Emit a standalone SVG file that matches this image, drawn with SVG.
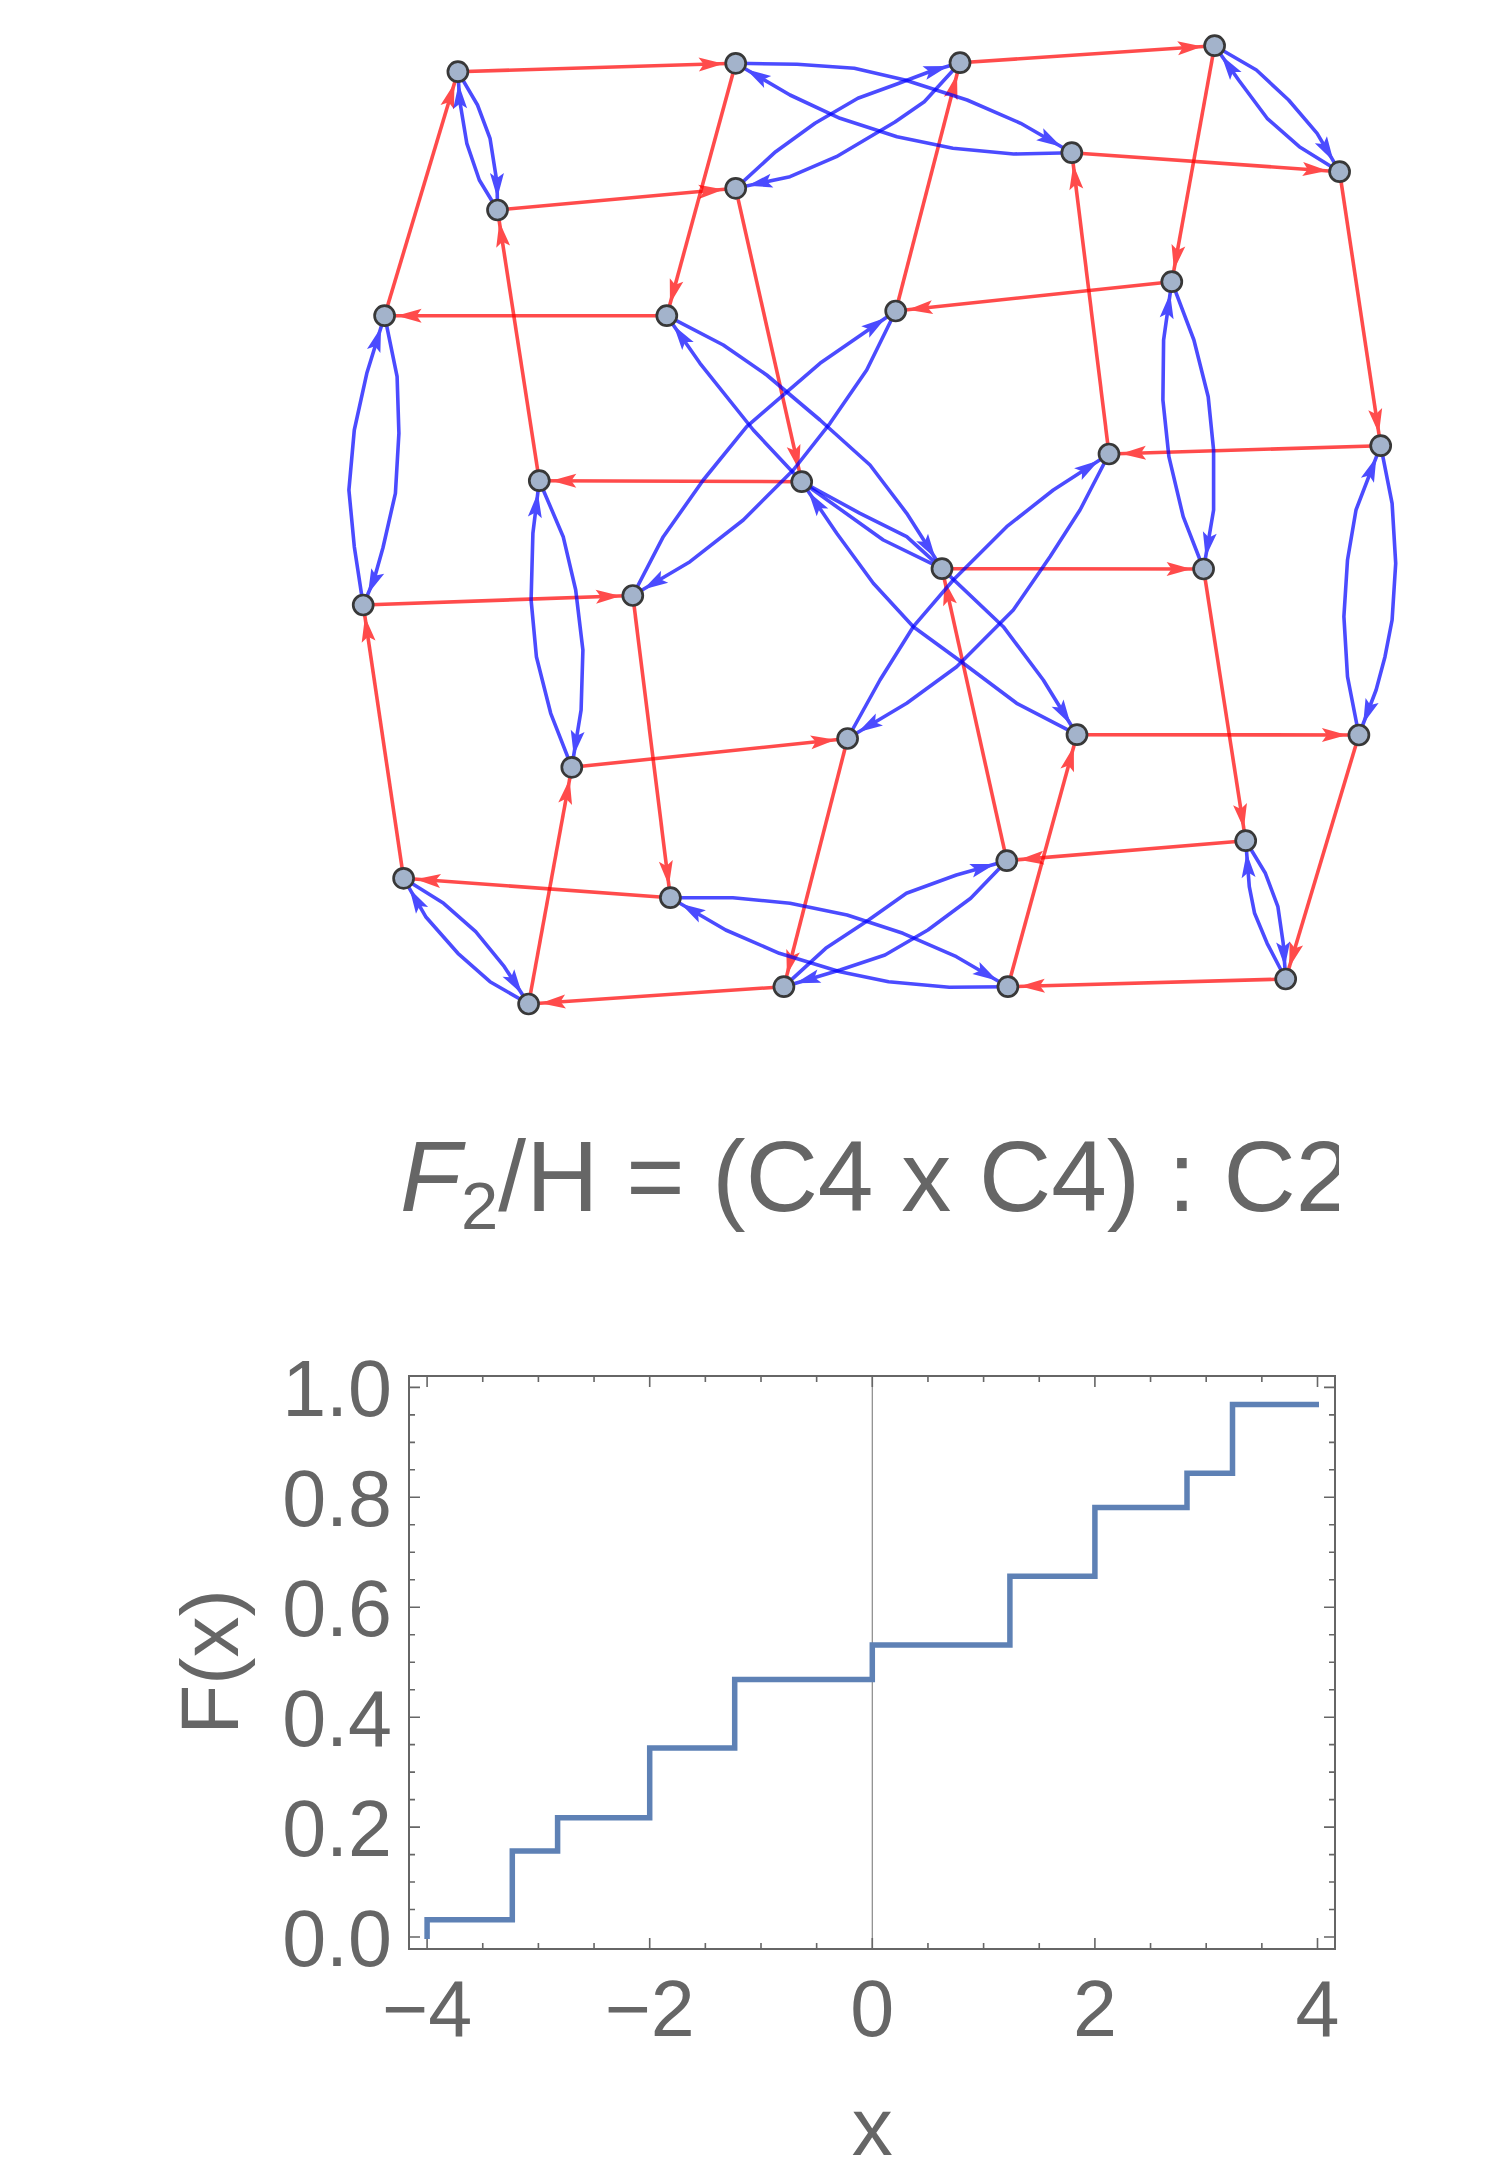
<svg xmlns="http://www.w3.org/2000/svg" width="1500" height="2173" viewBox="0 0 1500 2173">
<style>
.r{fill:none;stroke:#f00;stroke-width:3.6;opacity:.7;marker-end:url(#ar)}
.b{fill:none;stroke:#00f;stroke-width:3.6;opacity:.7;stroke-linejoin:round;marker-end:url(#ab)}
.nd{fill:#A3B3CB;stroke:#383838;stroke-width:2.7}
.t{font-family:"Liberation Sans",Arial,sans-serif;fill:#666}
.fr{fill:none;stroke:#666;stroke-width:2}
.tk{fill:none;stroke:#666;stroke-width:1.6}
</style>
<defs>
<marker id="ar" viewBox="-45 -10 50 20" refX="0" refY="0" markerWidth="50" markerHeight="20" markerUnits="userSpaceOnUse" orient="auto"><path d="M-12,0 L-37,-7 L-32,0 L-37,7 Z" fill="#f00"/></marker>
<marker id="ab" viewBox="-45 -10 50 20" refX="0" refY="0" markerWidth="50" markerHeight="20" markerUnits="userSpaceOnUse" orient="auto"><path d="M-12,0 L-37,-7 L-32,0 L-37,7 Z" fill="#00f"/></marker>
<clipPath id="tc"><rect x="0" y="1100" width="1339" height="160"/></clipPath>
</defs>
<rect width="1500" height="2173" fill="#fff"/>
<g id="connectors">
<path class="r" d="M457.9,71.7 L735.7,63.3"/>
<path class="r" d="M497.5,210 L735.7,188.3"/>
<path class="r" d="M384.6,315.7 L457.9,71.7"/>
<path class="r" d="M539.3,480.7 L497.5,210"/>
<path class="r" d="M666.8,315.7 L384.6,315.7"/>
<path class="r" d="M735.7,63.3 L666.8,315.7"/>
<path class="r" d="M735.7,188.3 L801.7,481.7"/>
<path class="r" d="M801.7,481.7 L539.3,480.7"/>
<path class="r" d="M895.7,311 L960,62.7"/>
<path class="r" d="M960,62.7 L1214.6,45.7"/>
<path class="r" d="M1214.6,45.7 L1171.8,281.7"/>
<path class="r" d="M1071.8,152.7 L1339.6,171.7"/>
<path class="r" d="M1109,454 L1071.8,152.7"/>
<path class="r" d="M1171.8,281.7 L895.7,311"/>
<path class="r" d="M1339.6,171.7 L1380.7,445.7"/>
<path class="r" d="M1380.7,445.7 L1109,454"/>
<path class="r" d="M363.2,605 L632.8,595.5"/>
<path class="r" d="M403.6,878.3 L363.2,605"/>
<path class="r" d="M632.8,595.5 L670.4,897.7"/>
<path class="r" d="M571.8,767.3 L847.6,738.5"/>
<path class="r" d="M528.6,1004 L571.8,767.3"/>
<path class="r" d="M670.4,897.7 L403.6,878.3"/>
<path class="r" d="M847.6,738.5 L783.9,986.7"/>
<path class="r" d="M783.9,986.7 L528.6,1004"/>
<path class="r" d="M942,568.7 L1203.6,569"/>
<path class="r" d="M1203.6,569 L1245.7,840.7"/>
<path class="r" d="M1077,734.7 L1358.9,735"/>
<path class="r" d="M1007.9,986.7 L1077,734.7"/>
<path class="r" d="M1245.7,840.7 L1006.8,860.7"/>
<path class="r" d="M1006.8,860.7 L942,568.7"/>
<path class="r" d="M1358.9,735 L1285.7,979"/>
<path class="r" d="M1285.7,979 L1007.9,986.7"/>
<path class="b" d="M457.9,71.7 L477.5,105 L490,138.3 L497.1,183.3 L497.5,210"/>
<path class="b" d="M497.5,210 L479.3,180 L466.8,143.3 L459.6,100 L457.9,71.7"/>
<path class="b" d="M384.6,315.7 L397.1,376.7 L398.9,433.3 L395.4,493.3 L382.9,548 L373.9,580 L363.2,605"/>
<path class="b" d="M363.2,605 L354.3,546.7 L348.9,490 L354.3,430 L366.8,373.3 L384.6,315.7"/>
<path class="b" d="M539.3,480.7 L563.2,536.7 L575.7,590 L582.9,650 L581.1,710 L575.7,743 L571.8,767.3"/>
<path class="b" d="M571.8,767.3 L550.7,713.3 L536.4,656.7 L531.1,600 L532.9,533.3 L539.3,480.7"/>
<path class="b" d="M403.6,878.3 L443.6,903.3 L475.7,931.7 L504.3,966.7 L528.6,1004"/>
<path class="b" d="M528.6,1004 L490,981.7 L457.9,953.3 L425.7,916.7 L403.6,878.3"/>
<path class="b" d="M1214.6,45.7 L1256.4,70 L1288.6,100 L1317.1,133.3 L1339.6,171.7"/>
<path class="b" d="M1339.6,171.7 L1299.3,146.7 L1267.1,118.3 L1238.6,80 L1214.6,45.7"/>
<path class="b" d="M1171.8,281.7 L1193.9,340 L1208.2,396.7 L1213.6,450 L1213.6,510 L1203.6,569"/>
<path class="b" d="M1203.6,569 L1183.2,516.7 L1168.9,456.7 L1162.9,400 L1163.6,340 L1171.8,281.7"/>
<path class="b" d="M1380.7,445.7 L1392.1,503.3 L1395.7,563.3 L1392.1,620 L1385,656.7 L1376.1,690 L1358.9,735"/>
<path class="b" d="M1358.9,735 L1347.5,676.7 L1343.9,616.7 L1347.5,560 L1356,510 L1380.7,445.7"/>
<path class="b" d="M1245.7,840.7 L1265.4,873.3 L1277.9,906.7 L1283.2,943.3 L1285.7,979"/>
<path class="b" d="M1285.7,979 L1267.1,943.3 L1254.6,913.3 L1249.3,886.7 L1245.7,840.7"/>
<path class="b" d="M735.7,63.3 L797.1,64.3 L854.3,68.3 L905,80 L967.1,100 L1020.7,123.3 L1071.8,152.7"/>
<path class="b" d="M1071.8,152.7 L1013.6,154 L952.9,148.3 L897,136.7 L840,118.3 L790,95 L735.7,63.3"/>
<path class="b" d="M735.7,188.3 L775.7,151.7 L815,123.3 L857.9,98.3 L897,84 L931.4,71 L960,62.7"/>
<path class="b" d="M960,62.7 L924.3,101.7 L895,122 L836.4,156.7 L790,176.7 L735.7,188.3"/>
<path class="b" d="M670.4,897.7 L732.9,897.7 L790,903.3 L847.1,915 L902.9,933.3 L956.4,956.7 L1007.9,986.7"/>
<path class="b" d="M1007.9,986.7 L949.3,987.3 L888.6,981.7 L840,971.7 L779.3,953.3 L725.7,930 L670.4,897.7"/>
<path class="b" d="M783.9,986.7 L825.7,948.3 L868.6,920 L906.4,893.3 L956.4,875 L1006.8,860.7"/>
<path class="b" d="M1006.8,860.7 L970.7,898.3 L927.9,930 L885,955 L840,970 L783.9,986.7"/>
<path class="b" d="M632.8,595.5 L663.3,536.7 L703.3,480 L746.7,426.7 L820,363.3 L895.7,311"/>
<path class="b" d="M895.7,311 L866.7,370 L830,423.3 L793.3,470 L743.3,520 L690,561.7 L632.8,595.5"/>
<path class="b" d="M666.8,315.7 L723.3,345 L766.7,375 L820,420 L870,465 L906.7,513.3 L942,568.7"/>
<path class="b" d="M942,568.7 L883.3,540 L801.7,481.7 L753.3,430 L700,363.3 L666.8,315.7"/>
<path class="b" d="M801.7,481.7 L860,513.3 L906.7,536.7 L942,568.7 L1003.3,626.7 L1043.3,680 L1077,734.7"/>
<path class="b" d="M1077,734.7 L1016.7,703.3 L963.3,663.3 L913.3,626.7 L873.3,583.3 L836.7,533.3 L801.7,481.7"/>
<path class="b" d="M847.6,738.5 L880,680 L913.3,626.7 L953.3,580 L1006.7,526.7 L1053.3,490 L1109,454"/>
<path class="b" d="M1109,454 L1080,510 L1050,556.7 L1013.3,610 L956.7,666.7 L906.7,703.3 L847.6,738.5"/>
</g>
<g id="nodes">
<g id="nA"><circle class="nd" cx="457.9" cy="71.7" r="10"/></g>
<g id="nB"><circle class="nd" cx="735.7" cy="63.3" r="10"/></g>
<g id="nC"><circle class="nd" cx="497.5" cy="210" r="10"/></g>
<g id="nD"><circle class="nd" cx="735.7" cy="188.3" r="10"/></g>
<g id="nE"><circle class="nd" cx="384.6" cy="315.7" r="10"/></g>
<g id="nF"><circle class="nd" cx="666.8" cy="315.7" r="10"/></g>
<g id="nG"><circle class="nd" cx="895.7" cy="311" r="10"/></g>
<g id="nH"><circle class="nd" cx="539.3" cy="480.7" r="10"/></g>
<g id="nI"><circle class="nd" cx="801.7" cy="481.7" r="10"/></g>
<g id="nJ"><circle class="nd" cx="960" cy="62.7" r="10"/></g>
<g id="nK"><circle class="nd" cx="1214.6" cy="45.7" r="10"/></g>
<g id="nL"><circle class="nd" cx="1071.8" cy="152.7" r="10"/></g>
<g id="nM"><circle class="nd" cx="1339.6" cy="171.7" r="10"/></g>
<g id="nN"><circle class="nd" cx="1171.8" cy="281.7" r="10"/></g>
<g id="nO"><circle class="nd" cx="1109" cy="454" r="10"/></g>
<g id="nP"><circle class="nd" cx="1380.7" cy="445.7" r="10"/></g>
<g id="nQ"><circle class="nd" cx="363.2" cy="605" r="10"/></g>
<g id="nR"><circle class="nd" cx="632.8" cy="595.5" r="10"/></g>
<g id="nS"><circle class="nd" cx="571.8" cy="767.3" r="10"/></g>
<g id="nT"><circle class="nd" cx="847.6" cy="738.5" r="10"/></g>
<g id="nU"><circle class="nd" cx="403.6" cy="878.3" r="10"/></g>
<g id="nV"><circle class="nd" cx="670.4" cy="897.7" r="10"/></g>
<g id="nW"><circle class="nd" cx="528.6" cy="1004" r="10"/></g>
<g id="nX"><circle class="nd" cx="783.9" cy="986.7" r="10"/></g>
<g id="nY"><circle class="nd" cx="942" cy="568.7" r="10"/></g>
<g id="nZ"><circle class="nd" cx="1203.6" cy="569" r="10"/></g>
<g id="nAA"><circle class="nd" cx="1077" cy="734.7" r="10"/></g>
<g id="nAB"><circle class="nd" cx="1358.9" cy="735" r="10"/></g>
<g id="nAC"><circle class="nd" cx="1245.7" cy="840.7" r="10"/></g>
<g id="nAD"><circle class="nd" cx="1006.8" cy="860.7" r="10"/></g>
<g id="nAE"><circle class="nd" cx="1285.7" cy="979" r="10"/></g>
<g id="nAF"><circle class="nd" cx="1007.9" cy="986.7" r="10"/></g>
</g>
<g id="title" clip-path="url(#tc)">
<text class="t" x="400" y="1210.7" font-size="100"><tspan font-style="italic">F</tspan><tspan font-size="67" dy="18.6">2</tspan><tspan dy="-18.6">/H = (C4 x C4) : C2</tspan></text>
</g>
<g id="plot">
<line x1="872.3" y1="1376" x2="872.3" y2="1949" stroke="#888" stroke-width="1.2"/>
<rect class="fr" x="409" y="1376" width="926" height="573"/>
<path class="tk" d="M427.1,1949v-11M482.75,1949v-6M538.4,1949v-6M594.05,1949v-6M649.7,1949v-11M705.35,1949v-6M761,1949v-6M816.65,1949v-6M872.3,1949v-11M927.95,1949v-6M983.6,1949v-6M1039.25,1949v-6M1094.9,1949v-11M1150.55,1949v-6M1206.2,1949v-6M1261.85,1949v-6M1317.5,1949v-11"/>
<path class="tk" d="M427.1,1376v11M482.75,1376v6M538.4,1376v6M594.05,1376v6M649.7,1376v11M705.35,1376v6M761,1376v6M816.65,1376v6M872.3,1376v11M927.95,1376v6M983.6,1376v6M1039.25,1376v6M1094.9,1376v11M1150.55,1376v6M1206.2,1376v6M1261.85,1376v6M1317.5,1376v11"/>
<path class="tk" d="M409,1937h11M409,1909.5h6M409,1882h6M409,1854.6h6M409,1827.1h11M409,1799.6h6M409,1772.1h6M409,1744.6h6M409,1717.2h11M409,1689.7h6M409,1662.2h6M409,1634.7h6M409,1607.2h11M409,1579.8h6M409,1552.3h6M409,1524.8h6M409,1497.3h11M409,1469.8h6M409,1442.4h6M409,1414.9h6M409,1387.4h11"/>
<path class="tk" d="M1335,1937h-11M1335,1909.5h-6M1335,1882h-6M1335,1854.6h-6M1335,1827.1h-11M1335,1799.6h-6M1335,1772.1h-6M1335,1744.6h-6M1335,1717.2h-11M1335,1689.7h-6M1335,1662.2h-6M1335,1634.7h-6M1335,1607.2h-11M1335,1579.8h-6M1335,1552.3h-6M1335,1524.8h-6M1335,1497.3h-11M1335,1469.8h-6M1335,1442.4h-6M1335,1414.9h-6M1335,1387.4h-11"/>
<polyline fill="none" stroke="#5E81B5" stroke-width="5.5" points="427.1,1939 427.1,1919.8 512.3,1919.8 512.3,1851.1 557.6,1851.1 557.6,1817.8 649.7,1817.8 649.7,1748.1 734.7,1748.1 734.7,1679.4 872.3,1679.4 872.3,1645 1009.9,1645 1009.9,1576.3 1094.9,1576.3 1094.9,1507.6 1187,1507.6 1187,1473.3 1232.5,1473.3 1232.5,1404.6 1319,1404.6"/>
<g class="t" font-size="79" text-anchor="end">
<text x="392" y="1415.9">1.0</text>
<text x="392" y="1525.8">0.8</text>
<text x="392" y="1635.7">0.6</text>
<text x="392" y="1745.7">0.4</text>
<text x="392" y="1855.6">0.2</text>
<text x="392" y="1965.5">0.0</text>
</g>
<g class="t" font-size="79" text-anchor="middle">
<text x="427.1" y="2036">−4</text>
<text x="649.7" y="2036">−2</text>
<text x="872.3" y="2036">0</text>
<text x="1094.9" y="2036">2</text>
<text x="1317.5" y="2036">4</text>
</g>
<text class="t" font-size="82" text-anchor="middle" x="872.3" y="2155">x</text>
<text class="t" font-size="82" text-anchor="middle" transform="translate(238,1662) rotate(-90)">F(x)</text>
</g>
</svg>
